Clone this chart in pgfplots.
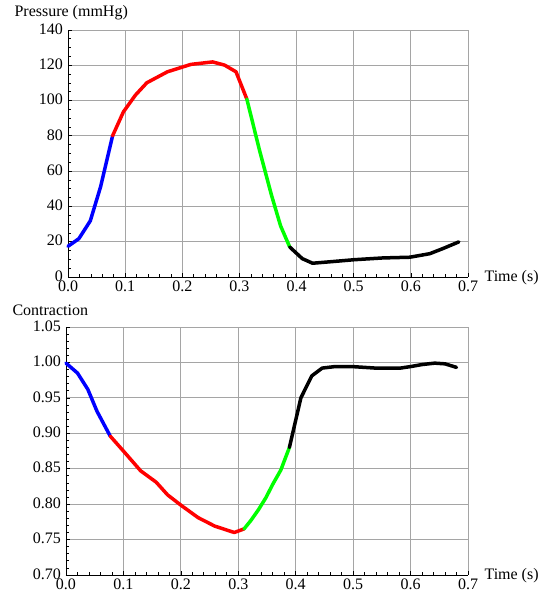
\documentclass[border=0pt]{standalone}
\usepackage{fontspec}
\setmainfont{Liberation Serif}
\usepackage{pgfplots}
\pgfplotsset{compat=1.18}

\definecolor{gridgray}{RGB}{165,165,165}

\pgfplotsset{
    heart/.style={
        scale only axis,
        xmin=0, xmax=0.7,
        xtick={0,0.1,...,0.7},
        minor x tick num=4,
        axis x line*=bottom,
        axis y line*=left,
        axis line style={black, line width=0.8pt, -},
        grid=major,
        major grid style={gridgray, line width=0.9pt},
        major tick length=4pt,
        minor tick length=2.5pt,
        tick style={black, line width=0.7pt},
        tick align=inside,
        tick label style={font=\fontsize{16}{18}\selectfont},
        label style={font=\fontsize{16}{18}\selectfont},
        xticklabel style={inner sep=1pt, yshift=-2.5pt},
        yticklabel style={inner sep=1pt, xshift=-4pt, yshift=1pt},
        /pgf/number format/assume math mode=true,
        xticklabel style={/pgf/number format/.cd, fixed, fixed zerofill, precision=1},
        every axis x label/.style={at={(rel axis cs:1,0)}, anchor=west, xshift=11pt, yshift=-1pt},
        every axis y label/.style={at={(rel axis cs:0,1)}, anchor=west, xshift=-59pt, yshift=17pt},
        clip=false,
    },
    seg/.style={line width=3.5pt, line join=round, line cap=round, mark=none},
}

\begin{document}
\fontsize{16}{18}\selectfont
\begin{tikzpicture}
\useasboundingbox (0,0) rectangle (544pt,596pt);

% Pressure
\begin{axis}[
    heart,
    at={(68pt,319pt)}, anchor=south west,
    width=400pt, height=247pt,
    ymin=0, ymax=140,
    ytick={0,20,...,140},
    minor y tick num=3,
    xlabel={Time (s)},
    ylabel={Pressure (mmHg)},
]
    \addplot[seg, blue] coordinates {
        (0.000,17.4) (0.019,21.7) (0.039,31.8) (0.057,51.1) (0.078,80.0)
    };
    \addplot[seg, red] coordinates {
        (0.078,80.0) (0.097,93.6) (0.118,103.1) (0.138,110.1) (0.174,116.3)
        (0.215,120.5) (0.253,121.9) (0.274,120.1) (0.294,116.3) (0.313,100.8)
    };
    \addplot[seg, green] coordinates {
        (0.313,100.8) (0.335,72.0) (0.356,46.5) (0.372,29.0) (0.388,17.0)
    };
    \addplot[seg, black] coordinates {
        (0.388,17.0) (0.410,10.4) (0.428,7.8) (0.465,8.8) (0.501,9.8)
        (0.551,10.8) (0.598,11.2) (0.633,13.2) (0.656,16.1) (0.684,19.9)
    };
\end{axis}

% Contraction
\begin{axis}[
    heart,
    at={(66pt,21pt)}, anchor=south west,
    width=402pt, height=248pt,
    ymin=0.70, ymax=1.05,
    ytick={0.70,0.75,...,1.05},
    minor y tick num=4,
    yticklabel style={/pgf/number format/.cd, fixed, fixed zerofill, precision=2},
    xlabel={Time (s)},
    ylabel={Contraction},
]
    \addplot[seg, blue] coordinates {
        (0.000,0.999) (0.020,0.985) (0.038,0.962) (0.054,0.931) (0.077,0.896)
    };
    \addplot[seg, red] coordinates {
        (0.077,0.896) (0.101,0.874) (0.130,0.847) (0.157,0.831) (0.177,0.813)
        (0.201,0.798) (0.230,0.781) (0.259,0.769) (0.293,0.760) (0.310,0.765)
    };
    \addplot[seg, green] coordinates {
        (0.310,0.765) (0.322,0.777) (0.335,0.792) (0.348,0.809) (0.360,0.828)
        (0.374,0.848) (0.389,0.880)
    };
    \addplot[seg, black] coordinates {
        (0.389,0.880) (0.409,0.950) (0.428,0.981) (0.446,0.992) (0.467,0.994)
        (0.501,0.994) (0.539,0.992) (0.582,0.992) (0.599,0.994) (0.620,0.997)
        (0.642,0.999) (0.660,0.998) (0.680,0.993)
    };
\end{axis}
\end{tikzpicture}
\end{document}
